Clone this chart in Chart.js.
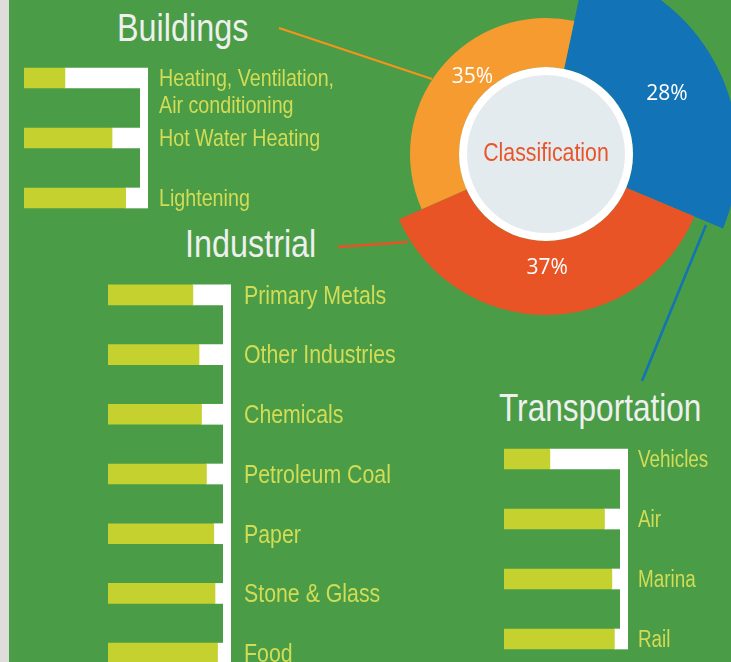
<!DOCTYPE html>
<html>
<head>
<meta charset="utf-8">
<script src="https://cdn.jsdelivr.net/npm/chart.js@4.4.1/dist/chart.umd.min.js"></script>
<style>
    body { margin: 0; width: 731px; height: 662px; overflow: hidden; background: #4a9c47; position: relative; }
    .strip { position: absolute; left: 0; top: 0; width: 9px; height: 662px; background: #dfdddb; }
    canvas, svg { position: absolute; }
    svg text { font-family: "Liberation Sans", Arial, sans-serif; font-size: 39px; fill: #eef0ee; }
</style>
</head>
<body>
<div class="strip"></div>
<svg width="731" height="662" style="left:0;top:0">
    <line x1="279" y1="28" x2="432" y2="79" stroke="#f7941d" stroke-width="2"/>
    <line x1="338" y1="247" x2="408" y2="242" stroke="#e95426" stroke-width="2.5"/>
    <line x1="706" y1="225" x2="642" y2="381" stroke="#1273b6" stroke-width="2.5"/>
    <text transform="translate(117,41) scale(0.83,1)">Buildings</text>
    <text transform="translate(185,257) scale(0.83,1)">Industrial</text>
    <text transform="translate(499,421) scale(0.81,1)">Transportation</text>
</svg>
<canvas id="pieChart" width="400" height="400" style="left:346px;top:-46px"></canvas>
<canvas id="buildingsChart" width="334" height="180" style="left:24px;top:48px"></canvas>
<canvas id="industrialChart" width="383" height="418" style="left:108px;top:265px"></canvas>
<canvas id="transportChart" width="224" height="240" style="left:504px;top:429px"></canvas>

<script>
const FONT = '"Liberation Sans", Arial, sans-serif';
const SQUEEZE = 0.82; // fake a condensed face

// Classification shares
const pieLabels = ['Transportation', 'Industrial', 'Buildings'];
const pieShares = [28, 37, 35];

// Sub-sector bars (percent of full track)
const buildingLabels = [['Heating, Ventilation,', 'Air conditioning'], 'Hot Water Heating', 'Lightening'];
const buildingValues = [33, 71, 82];

const industrialLabels = ['Primary Metals', 'Other Industries', 'Chemicals', 'Petroleum Coal', 'Paper', 'Stone & Glass', 'Food'];
const industrialValues = [69, 74, 76, 80, 86, 87, 89];

const transportLabels = ['Vehicles', 'Air', 'Marina', 'Rail'];
const transportValues = [37, 81, 87, 89];

// ring look: each slice sticks out to its own radius
const ringRadius = [192, 161, 136];
const labelAngleAt = [0.51, 0.5, 0.56];
const labelRadiusAt = [0.46, 0.35, 0.41];

function narrowText(ctx, text, x, y) {
    ctx.save();
    ctx.translate(x, y);
    ctx.scale(SQUEEZE, 1);
    ctx.fillText(text, 0, 0);
    ctx.restore();
}

const ringPlugin = {
    id: 'ring',
    afterDatasetsUpdate(chart) {
        chart.getDatasetMeta(0).data.forEach((arc, i) => { arc.outerRadius = ringRadius[i]; });
    },
    afterDatasetsDraw(chart) {
        const ctx = chart.ctx;
        const arcs = chart.getDatasetMeta(0).data;
        const cx = arcs[0].x, cy = arcs[0].y;
        ctx.save();
        ctx.fillStyle = '#fff';
        ctx.beginPath(); ctx.arc(cx, cy, 87, 0, Math.PI * 2); ctx.fill();
        ctx.fillStyle = '#e4ebee';
        ctx.beginPath(); ctx.arc(cx, cy, 79, 0, Math.PI * 2); ctx.fill();
        ctx.fillStyle = '#e8552b';
        ctx.font = '26px ' + FONT;
        ctx.textAlign = 'center';
        ctx.textBaseline = 'alphabetic';
        narrowText(ctx, 'Classification', cx, cy + 7);

        ctx.fillStyle = '#fff';
        ctx.font = '21px "Open Sans", sans-serif';
        arcs.forEach((arc, i) => {
            const a = arc.startAngle + (arc.endAngle - arc.startAngle) * labelAngleAt[i];
            const r = arc.innerRadius + (arc.outerRadius - arc.innerRadius) * labelRadiusAt[i];
            ctx.fillText(pieShares[i] + '%', cx + Math.cos(a) * r, cy + Math.sin(a) * r + 7);
        });
        ctx.restore();
    }
};

new Chart(document.getElementById('pieChart'), {
    type: 'doughnut',
    data: {
        labels: pieLabels,
        datasets: [{
            data: pieShares,
            backgroundColor: ['#1273b6', '#e95426', '#f59b2f'],
            borderWidth: 0,
            clip: false,
        }]
    },
    options: {
        responsive: false,
        animation: false,
        rotation: 12,
        cutout: 87,
        layout: { padding: 64 },
        plugins: { legend: { display: false }, tooltip: { enabled: false } }
    },
    plugins: [ringPlugin]
});

// white bracket on the right end of the tracks + the side labels
const bracketPlugin = {
    id: 'bracket',
    afterDatasetsDraw(chart, args, opts) {
        const ctx = chart.ctx;
        const bars = chart.getDatasetMeta(1).data;
        const right = chart.scales.x.getPixelForValue(100);
        const first = bars[0], last = bars[bars.length - 1];
        ctx.save();
        ctx.fillStyle = '#fff';
        ctx.fillRect(right - 8, first.y - first.height / 2, 8, last.y - first.y + last.height);

        ctx.fillStyle = '#d2dc55';
        ctx.font = opts.size + 'px ' + FONT;
        ctx.textBaseline = 'alphabetic';
        chart.data.labels.forEach((lab, i) => {
            [].concat(lab).forEach((line, j) => {
                narrowText(ctx, line, right + opts.gap, bars[i].y + opts.size * 0.34 + j * 27);
            });
        });
        ctx.restore();
    }
};

function barChart(id, labels, values, labelSpace, size, gap) {
    return new Chart(document.getElementById(id), {
        type: 'bar',
        data: {
            labels: labels,
            datasets: [
                { data: values, backgroundColor: '#c4d12f', barThickness: 20, borderWidth: 0 },
                { data: values.map(v => 100 - v), backgroundColor: '#ffffff', barThickness: 20, borderWidth: 0 }
            ]
        },
        options: {
            indexAxis: 'y',
            responsive: false,
            animation: false,
            layout: { padding: { left: 0, right: labelSpace, top: 0, bottom: 0 } },
            plugins: {
                legend: { display: false },
                tooltip: { enabled: false },
                bracket: { size: size, gap: gap }
            },
            scales: {
                x: { display: false, stacked: true, min: 0, max: 100 },
                y: { display: false, stacked: true }
            }
        },
        plugins: [bracketPlugin]
    });
}

barChart('buildingsChart', buildingLabels, buildingValues, 210, 24, 11);
barChart('industrialChart', industrialLabels, industrialValues, 260, 26, 13);
barChart('transportChart', transportLabels, transportValues, 100, 23, 10);
</script>
</body>
</html>
